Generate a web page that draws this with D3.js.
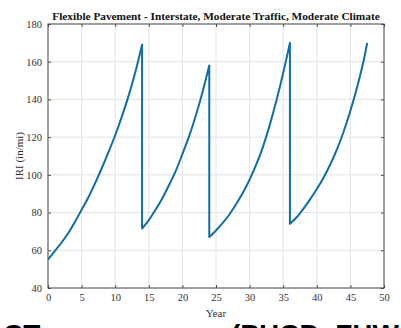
<!DOCTYPE html>
<html>
<head>
<meta charset="utf-8">
<script src="https://cdn.jsdelivr.net/npm/d3@7"></script>
<style>
  body { margin: 0; background: #fff; overflow: hidden; }
  svg { display: block; }
</style>
</head>
<body>
<div id="chart"></div>
<script>
// IRI history, one series with vertical drops at the rehab years
const years = [
    0, 1, 2, 3, 4, 5, 6, 7, 8, 9, 10, 11, 12, 13, 14,
    14, 15, 16, 17, 18, 19, 20, 21, 22, 23, 24,
    24, 25, 26, 27, 28, 29, 30, 31, 32, 33, 34, 35, 36,
    36, 37, 38, 39, 40, 41, 42, 43, 44, 45, 46, 47, 47.5
];
const iri = [
    55, 59.5, 64, 69, 75, 81.5, 88, 95.5, 103.5, 112, 121, 131, 142, 154.5, 169,
    71.5, 76, 81.5, 87.5, 94.5, 102, 111, 120.5, 131.5, 144, 158,
    67, 70.5, 74.5, 79, 84.5, 90.5, 97.5, 105.5, 115, 126.5, 139.5, 154, 170,
    74, 77.5, 82, 87, 92.5, 98.5, 105.5, 113.5, 123, 134, 146.5, 161, 170
];
const xTicks = [0, 5, 10, 15, 20, 25, 30, 35, 40, 45, 50];
const yTicks = [40, 60, 80, 100, 120, 140, 160, 180];

const titleText = "Flexible Pavement - Interstate, Moderate Traffic, Moderate Climate";

const W = 401, H = 328;
const margin = { top: 24, right: 17, bottom: 40, left: 48 };
const width = W - margin.left - margin.right;
const height = H - margin.top - margin.bottom;

const svg = d3.select("#chart").append("svg")
    .attr("width", W)
    .attr("height", H);

const g = svg.append("g")
    .attr("transform", "translate(" + margin.left + "," + margin.top + ")");

const x = d3.scaleLinear().domain([0, 50]).range([0, width]);
const y = d3.scaleLinear().domain([40, 180]).range([height, 0]);

// grid
g.append("g")
    .selectAll("line")
    .data(xTicks)
    .enter().append("line")
    .attr("x1", d => x(d)).attr("x2", d => x(d))
    .attr("y1", 0).attr("y2", height)
    .attr("stroke", "#e3e3e3").attr("stroke-width", 1);
g.append("g")
    .selectAll("line")
    .data(yTicks)
    .enter().append("line")
    .attr("x1", 0).attr("x2", width)
    .attr("y1", d => y(d)).attr("y2", d => y(d))
    .attr("stroke", "#e3e3e3").attr("stroke-width", 1);

// axes, ticks pointing inside like matlab
const axisColor = "#4d4d4d";
const styleAxis = sel => {
    sel.select(".domain").remove();
    sel.selectAll("line").attr("stroke", axisColor);
    sel.selectAll("text")
        .attr("fill", "#333")
        .style("font-family", "'Liberation Serif', 'Times New Roman', serif")
        .style("font-size", "10.5px");
};

g.append("g")
    .attr("transform", "translate(0," + height + ")")
    .call(d3.axisBottom(x).tickValues(xTicks).tickSize(-3).tickPadding(6))
    .call(styleAxis);
g.append("g")
    .call(d3.axisTop(x).tickValues(xTicks).tickSize(-3).tickFormat(""))
    .call(styleAxis);
g.append("g")
    .call(d3.axisLeft(y).tickValues(yTicks).tickSize(-3).tickPadding(6))
    .call(styleAxis);
g.append("g")
    .attr("transform", "translate(" + width + ",0)")
    .call(d3.axisRight(y).tickValues(yTicks).tickSize(-3).tickFormat(""))
    .call(styleAxis);

g.append("rect")
    .attr("width", width).attr("height", height)
    .attr("fill", "none")
    .attr("stroke", axisColor).attr("stroke-width", 1);

// the curve: smooth each growth run, join them with straight drops
const pts = years.map((yr, i) => [yr, iri[i]]);
const runs = [];
pts.forEach((p, i) => {
    if (i === 0 || p[0] === pts[i - 1][0]) runs.push([]);
    runs[runs.length - 1].push(p);
});
const line = d3.line().x(d => x(d[0])).y(d => y(d[1])).curve(d3.curveMonotoneX);
const pathD = runs.map((r, i) => {
    const d = line(r);
    return i === 0 ? d : "L" + d.slice(1);
}).join("");

g.append("path")
    .attr("fill", "none")
    .attr("stroke", "#0f6ea8")
    .attr("stroke-width", 2)
    .attr("stroke-linejoin", "round")
    .attr("d", pathD);

// labels
svg.append("text")
    .attr("x", margin.left + width / 2)
    .attr("y", 20)
    .attr("text-anchor", "middle")
    .style("font-family", "'Liberation Serif', 'Times New Roman', serif")
    .style("font-weight", "bold")
    .style("font-size", "11.3px")
    .attr("fill", "#111")
    .text(titleText);

svg.append("text")
    .attr("x", margin.left + width / 2)
    .attr("y", 317)
    .attr("text-anchor", "middle")
    .style("font-family", "'Liberation Serif', 'Times New Roman', serif")
    .style("font-size", "11px")
    .attr("fill", "#333")
    .text("Year");

svg.append("text")
    .attr("transform", "translate(23," + (margin.top + height / 2) + ") rotate(-90)")
    .attr("text-anchor", "middle")
    .style("font-family", "'Liberation Serif', 'Times New Roman', serif")
    .style("font-size", "11px")
    .attr("fill", "#333")
    .text("IRI (in/mi)");

// text of the page below, cut by the crop
const cutStyle = sel => sel
    .style("font-family", "'Liberation Sans', Arial, sans-serif")
    .style("font-weight", "bold")
    .style("font-size", "28px")
    .attr("fill", "#000");
svg.append("text").attr("x", 3).attr("y", 344).call(cutStyle).text("CT");
svg.append("text").attr("x", 231).attr("y", 344).call(cutStyle).text("(PHCD, FHW");
</script>
</body>
</html>
